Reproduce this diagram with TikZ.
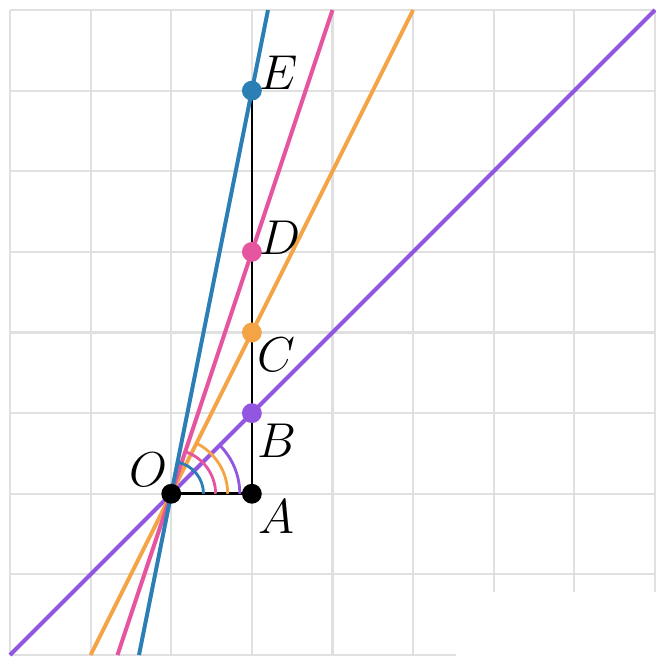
\documentclass[tikz,border=0pt]{standalone}
\usepackage{amsmath,amssymb}
\usetikzlibrary{positioning}
\definecolor{rayblue}{HTML}{2B7FB5}
\definecolor{raypink}{HTML}{E6559F}
\definecolor{rayorange}{HTML}{F5A445}
\definecolor{raypurple}{HTML}{9256E0}

\begin{document}
\begin{tikzpicture}[grid line/.style={draw=black!12, line width=0.75pt}, ray/.style={line width=1.4pt}, angle arc/.style={line width=1pt}, dot/.style={circle, fill, inner sep=0pt, minimum size=7pt}, pt label/.style={inner sep=0pt, font=\fontsize{16}{19}\selectfont}]
    \useasboundingbox (-2.124,-2.037) rectangle (6.012,6.124);
    \draw[grid line] (-2,-2) grid (6,6);
    \fill[white] (3.53,-1.22) rectangle (6.1,-2.1);

    \coordinate (O) at (0,0);
    \coordinate (A) at (1,0);
    \coordinate (B) at (1,1);
    \coordinate (C) at (1,2);
    \coordinate (D) at (1,3);
    \coordinate (E) at (1,5);
    \coordinate (P1) at (-2,-2);
    \coordinate (P2) at (6,6);
    \coordinate (Q1) at (-1,-2);
    \coordinate (Q2) at (3,6);
    \coordinate (R1) at (-0.6667,-2);
    \coordinate (R2) at (2,6);
    \coordinate (S1) at (-0.4,-2);
    \coordinate (S2) at (1.2,6);

    \draw[line width=0.9pt] (O) -- (A) -- (E);

    \draw[ray, raypurple] (P1) -- (P2);
    \draw[ray, rayorange] (Q1) -- (Q2);
    \draw[ray, raypink] (R1) -- (R2);
    \draw[ray, rayblue] (S1) -- (S2);

    \draw[angle arc, rayblue] ([shift={(0:0.4)}]O) arc[start angle=0, end angle=78.69, radius=0.4];
    \draw[angle arc, raypink] ([shift={(0:0.55)}]O) arc[start angle=0, end angle=71.57, radius=0.55];
    \draw[angle arc, rayorange] ([shift={(0:0.7)}]O) arc[start angle=0, end angle=63.43, radius=0.7];
    \draw[angle arc, raypurple] ([shift={(0:0.85)}]O) arc[start angle=0, end angle=45, radius=0.85];

    \node[dot, black] (Odot) at (O) {};
    \node[dot, black] (Adot) at (A) {};
    \node[dot, raypurple] (Bdot) at (B) {};
    \node[dot, rayorange] (Cdot) at (C) {};
    \node[dot, raypink] (Ddot) at (D) {};
    \node[dot, rayblue] (Edot) at (E) {};

    \node[pt label] (Olab) at (-0.28,0.30) {$O$};
    \node[pt label] (Alab) at (1.31,-0.28) {$A$};
    \node[pt label] (Blab) at (1.31,0.66) {$B$};
    \node[pt label] (Clab) at (1.31,1.72) {$C$};
    \node[pt label] (Dlab) at (1.35,3.18) {$D$};
    \node[pt label] (Elab) at (1.33,5.22) {$E$};
\end{tikzpicture}
\end{document}
